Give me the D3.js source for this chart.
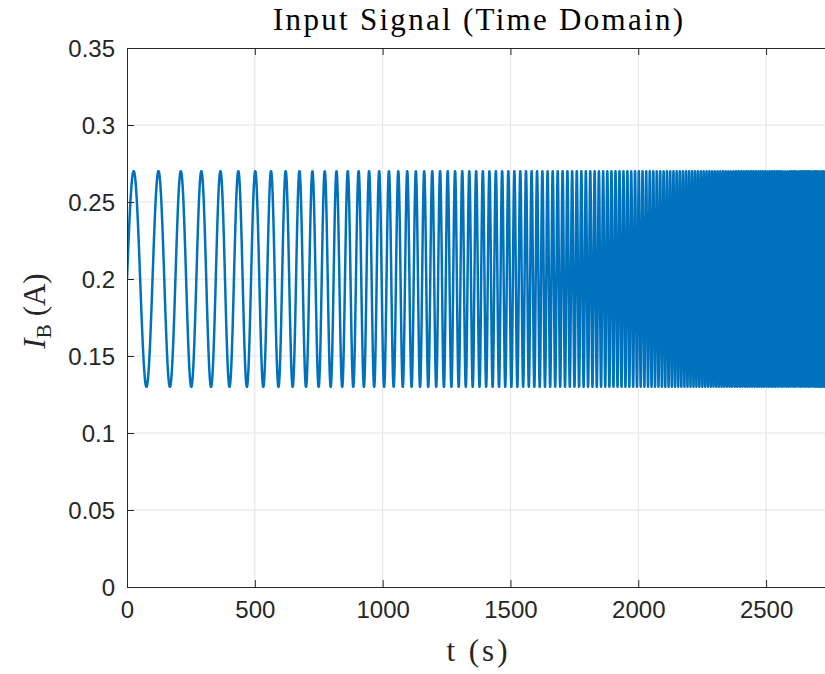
<!DOCTYPE html>
<html>
<head>
<meta charset="utf-8">
<script src="https://cdn.jsdelivr.net/npm/d3@7"></script>
<style>
  body { margin: 0; background: #fff; }
  svg { display: block; }
</style>
</head>
<body>
<div id="chart"></div>
<script>
// values
const xTicks = [0, 500, 1000, 1500, 2000, 2500];
const yTicks = [0, 0.05, 0.1, 0.15, 0.2, 0.25, 0.3, 0.35];
const yTickLabels = ["0", "0.05", "0.1", "0.15", "0.2", "0.25", "0.3", "0.35"];
// instantaneous frequency of the chirp, estimated from peak spacing
const freqTimes = [0, 500, 1000, 1500, 2000, 2500, 2750];
const freqHz = [0.0094, 0.0155, 0.0260, 0.0420, 0.0680, 0.1100, 0.1400];
const offsetA = 0.2;
const amplitudeA = 0.07;
const tEnd = 2750;
const dt = 0.2;

const W = 825, H = 674;
const margin = { top: 48, left: 127, bottom: 87 };

const svg = d3.select("#chart").append("svg")
    .attr("width", W)
    .attr("height", H);

const x = d3.scaleLinear().domain([0, 2750]).range([margin.left, 830]);
const y = d3.scaleLinear().domain([0, 0.35]).range([H - margin.bottom, margin.top]);

// grid
const grid = svg.append("g");
grid.selectAll(".gx")
    .data(xTicks.slice(1))
    .enter().append("line")
    .attr("x1", d => x(d)).attr("x2", d => x(d))
    .attr("y1", y(0)).attr("y2", y(0.35))
    .attr("stroke", "#e3e3e3").attr("stroke-width", 1);
grid.selectAll(".gy")
    .data(yTicks.slice(1, -1))
    .enter().append("line")
    .attr("x1", x(0)).attr("x2", W)
    .attr("y1", d => y(d)).attr("y2", d => y(d))
    .attr("stroke", "#e3e3e3").attr("stroke-width", 1);

// build the signal from the frequency readings
const freqAt = d3.scaleLinear().domain(freqTimes).range(freqHz);
const signal = [];
let phase = 0;
for (let t = 0; t <= tEnd; t += dt) {
    signal.push([t, offsetA + amplitudeA * Math.sin(phase)]);
    phase += 2 * Math.PI * freqAt(t + dt / 2) * dt;
}

svg.append("clipPath").attr("id", "plotclip")
    .append("rect")
    .attr("x", x(0)).attr("y", y(0.35))
    .attr("width", W - x(0)).attr("height", y(0) - y(0.35));

svg.append("path")
    .datum(signal)
    .attr("clip-path", "url(#plotclip)")
    .attr("fill", "none")
    .attr("stroke", "#0072BD")
    .attr("stroke-width", 2.5)
    .attr("stroke-linejoin", "round")
    .attr("d", d3.line().x(d => x(d[0])).y(d => y(d[1])));

// axes (box on, ticks inside)
const axisColor = "#262626";
const gBottom = svg.append("g")
    .attr("transform", `translate(0,${y(0)})`)
    .call(d3.axisBottom(x).tickValues(xTicks).tickSize(-7).tickPadding(14).tickFormat(d3.format("d")));
const gTop = svg.append("g")
    .attr("transform", `translate(0,${y(0.35)})`)
    .call(d3.axisTop(x).tickValues(xTicks).tickSize(-7).tickFormat(""));
const gLeft = svg.append("g")
    .attr("transform", `translate(${x(0)},0)`)
    .call(d3.axisLeft(y).tickValues(yTicks).tickSize(-7).tickPadding(12)
        .tickFormat((d, i) => yTickLabels[i]));

[gBottom, gTop, gLeft].forEach(g => {
    g.select(".domain").attr("stroke", axisColor).attr("stroke-width", 1);
    g.selectAll(".tick line").attr("stroke", axisColor);
    g.selectAll(".tick text")
        .attr("fill", axisColor)
        .style("font-family", "'Liberation Sans', Arial, sans-serif")
        .style("font-size", "24px");
});
gBottom.selectAll(".tick text").attr("dy", "0.71em");
gLeft.selectAll(".tick text").attr("dy", "0.36em");

// labels
const serif = "'Liberation Serif', 'Times New Roman', serif";
svg.append("text")
    .attr("x", 478).attr("y", 30)
    .attr("text-anchor", "middle")
    .attr("textLength", 410)
    .attr("lengthAdjust", "spacing")
    .style("font-family", serif)
    .style("font-size", "31px")
    .attr("fill", "#000")
    .text("Input Signal (Time Domain)");

svg.append("text")
    .attr("x", 477).attr("y", 661)
    .attr("text-anchor", "middle")
    .attr("textLength", 61)
    .attr("lengthAdjust", "spacing")
    .style("font-family", serif)
    .style("font-size", "31px")
    .attr("fill", "#262626")
    .text("t (s)");

const ylab = svg.append("text")
    .attr("transform", `translate(45,311) rotate(-90)`)
    .attr("text-anchor", "middle")
    .style("font-family", serif)
    .style("font-size", "31px")
    .attr("fill", "#262626");
ylab.append("tspan").style("font-style", "italic").text("I");
ylab.append("tspan").attr("dy", 6).style("font-size", "21px").text("B");
ylab.append("tspan").attr("dy", -6).attr("dx", 8).text("(A)");
</script>
</body>
</html>
